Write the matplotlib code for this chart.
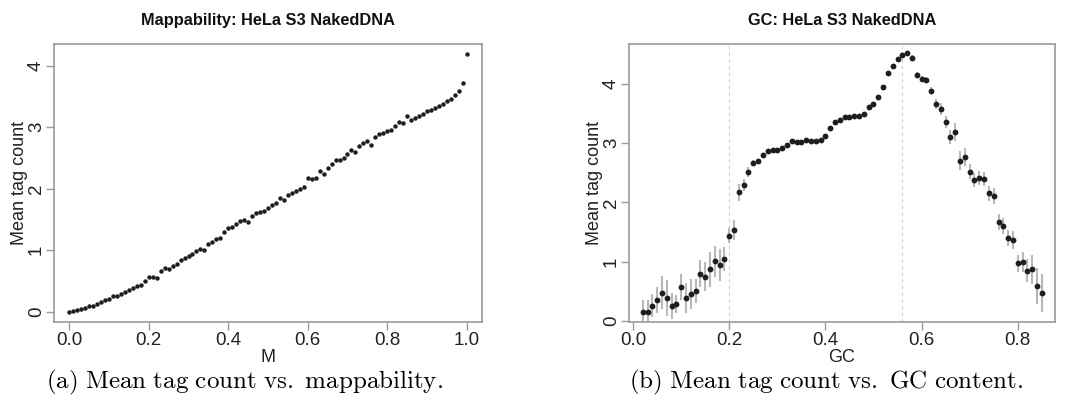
import matplotlib
matplotlib.use("Agg")
import matplotlib.pyplot as plt

plt.rcParams['font.family'] = ['Liberation Sans', 'DejaVu Sans']
plt.rcParams['mathtext.fontset'] = 'cm'

# ---- Data: mappability panel ----
map_x = [i / 100 for i in range(101)]
map_y = [0.00, 0.01, 0.03, 0.04, 0.06, 0.09, 0.10, 0.13, 0.15, 0.19,
         0.21, 0.26, 0.25, 0.29, 0.32, 0.36, 0.38, 0.42, 0.44, 0.50,
         0.57, 0.56, 0.54, 0.66, 0.71, 0.70, 0.74, 0.77, 0.84, 0.88,
         0.91, 0.94, 0.99, 1.02, 1.00, 1.10, 1.13, 1.18, 1.20, 1.29,
         1.36, 1.38, 1.42, 1.47, 1.49, 1.45, 1.55, 1.60, 1.62, 1.64,
         1.68, 1.74, 1.76, 1.84, 1.81, 1.90, 1.93, 1.96, 1.99, 2.02,
         2.17, 2.16, 2.18, 2.29, 2.24, 2.33, 2.40, 2.46, 2.47, 2.50,
         2.56, 2.62, 2.59, 2.70, 2.74, 2.77, 2.71, 2.84, 2.88, 2.90,
         2.93, 2.96, 3.02, 3.08, 3.06, 3.18, 3.12, 3.14, 3.18, 3.22,
         3.26, 3.28, 3.31, 3.35, 3.38, 3.42, 3.46, 3.52, 3.58, 3.72,
         4.18]

# ---- Data: GC panel ----
gc_x = [i / 100 for i in range(2, 86)]
gc_y = [0.15, 0.15, 0.26, 0.35, 0.48, 0.39, 0.26, 0.28, 0.57, 0.39,
        0.45, 0.51, 0.80, 0.75, 0.87, 1.01, 0.95, 1.04, 1.44, 1.53,
        2.17, 2.29, 2.51, 2.66, 2.69, 2.80, 2.86, 2.88, 2.88, 2.91,
        2.96, 3.03, 3.01, 3.01, 3.05, 3.03, 3.03, 3.05, 3.12, 3.25,
        3.35, 3.39, 3.44, 3.44, 3.45, 3.46, 3.49, 3.60, 3.66, 3.77,
        3.94, 4.18, 4.30, 4.42, 4.48, 4.51, 4.44, 4.14, 4.08, 4.07,
        3.88, 3.66, 3.58, 3.36, 3.10, 3.18, 2.70, 2.76, 2.52, 2.38,
        2.41, 2.39, 2.15, 2.11, 1.67, 1.60, 1.40, 1.36, 0.97, 1.00,
        0.85, 0.87, 0.59, 0.47]
gc_err = [0.20, 0.20, 0.20, 0.22, 0.28, 0.30, 0.22, 0.15, 0.22, 0.25,
          0.25, 0.20, 0.22, 0.25, 0.30, 0.26, 0.27, 0.20, 0.13, 0.17,
          0.14, 0.10, 0.08, 0.05, 0.04, 0.03, 0.02, 0.02, 0.02, 0.02,
          0.02, 0.02, 0.02, 0.02, 0.02, 0.02, 0.02, 0.02, 0.02, 0.02,
          0.02, 0.02, 0.02, 0.02, 0.02, 0.02, 0.02, 0.02, 0.02, 0.03,
          0.03, 0.03, 0.03, 0.03, 0.03, 0.03, 0.04, 0.05, 0.05, 0.05,
          0.06, 0.08, 0.10, 0.10, 0.12, 0.15, 0.16, 0.15, 0.13, 0.12,
          0.12, 0.12, 0.12, 0.13, 0.13, 0.13, 0.14, 0.15, 0.15, 0.17,
          0.20, 0.25, 0.30, 0.32]
gc_vlines = [0.2, 0.56]

map_xticks = [0.0, 0.2, 0.4, 0.6, 0.8, 1.0]
map_yticks = [0, 1, 2, 3, 4]
gc_xticks = [0.0, 0.2, 0.4, 0.6, 0.8]
gc_yticks = [0, 1, 2, 3, 4]

fig = plt.figure(figsize=(10.76, 4.09), dpi=100)
ax1 = fig.add_axes([54 / 1076, 1 - 322 / 409, 428 / 1076, 278 / 409])
ax2 = fig.add_axes([629 / 1076, 1 - 322 / 409, 426 / 1076, 278 / 409])

spine_col = '#9a9a9a'
pt_col = '#1e1e1e'


def style(ax, xticks, yticks):
    for s in ax.spines.values():
        s.set_color(spine_col)
        s.set_linewidth(1.2)
    ax.set_xticks(xticks)
    ax.set_xticklabels(['%.1f' % t for t in xticks])
    ax.set_yticks(yticks)
    ax.set_yticklabels([str(t) for t in yticks], rotation=90, va='center')
    ax.tick_params(direction='out', length=5.5, width=1.0, color=spine_col,
                   labelsize=13.5, labelcolor='#222222')
    ax.tick_params(axis='x', pad=2)
    ax.tick_params(axis='y', pad=1)


ax1.plot(map_x, map_y, 'o', color=pt_col, markersize=3.2, markeredgewidth=0)
ax1.set_xlim(-0.0385, 1.0385)
ax1.set_ylim(-0.167, 4.35)
style(ax1, map_xticks, map_yticks)
ax1.set_title('Mappability: HeLa S3 NakedDNA', fontsize=11.8, fontweight='bold',
              pad=14, color='#111111')
ax1.set_xlabel('M', fontsize=13, labelpad=0, color='#222222')
ax1.set_ylabel('Mean tag count', fontsize=13, labelpad=0, color='#222222')

for v in gc_vlines:
    ax2.axvline(v, color='#d0d0d0', linestyle=(0, (3, 3)), linewidth=0.8, zorder=0)
ax2.errorbar(gc_x, gc_y, yerr=gc_err, fmt='none', ecolor='#b8b8b8',
             elinewidth=1.5, capsize=0, zorder=1)
ax2.plot(gc_x, gc_y, 'o', color=pt_col, markersize=4.2, markeredgewidth=0, zorder=2)
ax2.set_xlim(-0.0085, 0.8775)
ax2.set_ylim(-0.017, 4.67)
style(ax2, gc_xticks, gc_yticks)
ax2.set_title('GC: HeLa S3 NakedDNA', fontsize=11.8, fontweight='bold',
              pad=14, color='#111111')
ax2.set_xlabel('GC', fontsize=13, labelpad=0, color='#222222')
ax2.set_ylabel('Mean tag count', fontsize=13, labelpad=0, color='#222222')

fig.text(244 / 1076, 1 - 382 / 409,
         r'$\mathrm{(a)\ Mean\ tag\ count\ vs.\ mappability.}$',
         ha='center', va='center', fontsize=18)
fig.text(826 / 1076, 1 - 382 / 409,
         r'$\mathrm{(b)\ Mean\ tag\ count\ vs.\ GC\ content.}$',
         ha='center', va='center', fontsize=18)

fig.savefig('out.png', dpi=100)
